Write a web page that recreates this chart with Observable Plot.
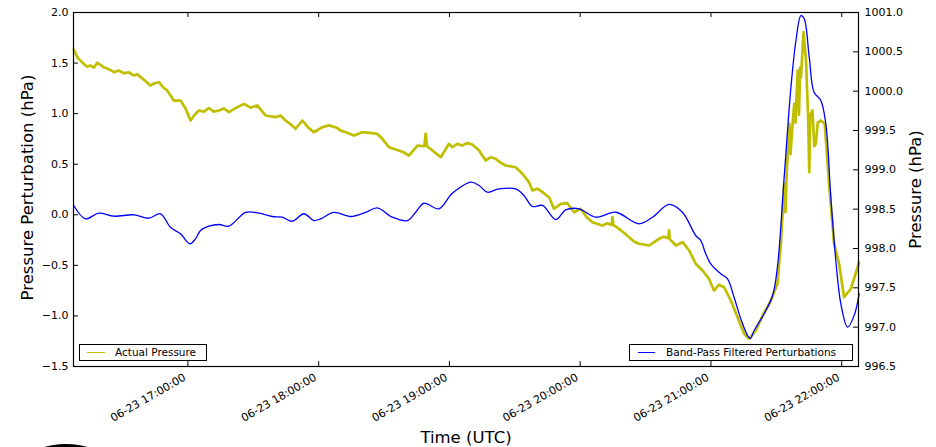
<!DOCTYPE html>
<html>
<head>
<meta charset="utf-8">
<script src="https://cdn.jsdelivr.net/npm/d3@7"></script>
<script src="https://cdn.jsdelivr.net/npm/@observablehq/plot@0.6"></script>
<style>
  html, body { margin: 0; padding: 0; background: #fff; overflow: hidden; }
  #wrap { position: relative; width: 936px; height: 447px; overflow: hidden; font-family: "DejaVu Sans", sans-serif; }
  .legend { position: absolute; background: #fff; border: 1px solid #000; box-sizing: border-box; height: 17px; font-size: 10.5px; line-height: 15px; white-space: nowrap; }
  .legend .sw { position: absolute; top: 7px; height: 0; }
  .legend .lb { position: absolute; top: 0; }
  #blob { position: absolute; left: 30px; top: 444px; width: 72px; height: 30px; border-radius: 50%; background: #000; }
</style>
</head>
<body>
<div id="wrap"></div>
<script>
// ---- data (minutes after 16:00 UTC on 06-23) ----
const filteredMinutes = [7.6,13.0,19.1,26.0,35.2,42.1,47.4,52.0,56.6,60.9,63.5,65.8,69.6,74.2,78.8,86.5,92.6,98.7,103.3,107.9,113.2,117.8,120.9,127.0,134.7,141.5,146.9,153.8,160.7,164.5,168.3,175.2,180.6,182.9,189.8,193.6,197.4,202.7,210.4,214.2,218.1,222.7,228.8,233.4,239.5,247.1,256.3,267.0,273.2,280.8,286.9,293.0,295.3,297.6,299.9,304.5,307.6,310.6,313.7,316.8,318.1,319.8,324.4,328.3,330.5,333.6,336.7,339.0,341.3,342.8,345.1,347.3,350.4,352.7,355.0,357.3,359.6,362.7,365.7,368.0];
const filteredValues = [0.092,-0.040,0.016,-0.014,0.000,-0.034,0.010,-0.123,-0.188,-0.287,-0.238,-0.155,-0.113,-0.096,-0.113,0.025,0.016,-0.017,-0.024,-0.064,0.010,-0.057,-0.040,0.023,-0.017,0.023,0.069,-0.024,-0.057,0.025,0.114,0.059,0.198,0.240,0.322,0.289,0.223,0.256,0.256,0.191,0.082,0.092,-0.047,0.049,0.059,-0.024,0.025,-0.089,-0.024,0.102,0.025,-0.205,-0.254,-0.386,-0.485,-0.584,-0.633,-0.815,-1.029,-1.194,-1.223,-1.144,-0.979,-0.798,-0.518,0.372,1.261,1.723,1.970,1.938,1.558,1.212,1.130,0.900,0.174,-0.452,-0.880,-1.111,-0.996,-0.781];

const actualMinutes = [7.6,9.5,12.2,13.8,15.3,16.9,18.4,20.0,21.4,23.7,26.0,28.3,30.6,32.9,35.2,36.8,38.3,40.5,42.8,44.7,46.7,48.6,50.5,53.5,56.6,58.9,61.2,63.1,65.0,67.3,69.6,71.9,74.2,76.5,78.8,82.2,85.7,88.7,91.8,95.6,100.2,102.5,104.8,107.1,109.4,112.5,115.1,117.8,121.7,124.7,127.8,130.1,132.4,136.2,140.0,143.4,146.9,149.2,152.2,156.8,159.1,161.4,165.3,168.5,169.1,169.7,172.2,176.0,179.8,181.3,183.6,185.9,188.2,190.5,193.6,196.6,198.9,201.2,203.5,205.8,210.4,213.5,216.5,218.1,220.4,222.7,225.7,228.0,231.1,234.1,237.2,240.2,242.9,245.6,250.2,252.5,254.4,254.8,255.2,257.8,260.1,262.4,264.7,267.0,271.6,273.9,276.2,278.4,280.5,280.8,281.1,283.9,287.0,290.0,293.0,296.1,299.1,301.4,303.7,306.0,309.1,312.2,315.2,317.5,320.6,323.7,327.5,330.5,332.1,333.6,334.2,334.8,336.0,336.5,337.1,338.2,338.8,339.8,340.4,340.9,341.3,342.5,343.6,344.6,345.1,345.6,346.6,347.4,348.1,349.0,350.4,352.2,354.2,356.5,358.8,361.1,364.2,367.3,367.9];
const actualPressure = [1000.530,1000.420,1000.348,1000.310,1000.326,1000.300,1000.361,1000.330,1000.305,1000.280,1000.241,1000.262,1000.228,1000.240,1000.199,1000.215,1000.178,1000.130,1000.072,1000.100,1000.114,1000.050,1000.008,999.881,999.881,999.780,999.627,999.700,999.754,999.740,999.783,999.740,999.754,999.780,999.733,999.790,999.839,999.790,999.818,999.691,999.669,999.690,999.627,999.580,999.522,999.627,999.540,999.478,999.542,999.565,999.542,999.500,999.478,999.436,999.478,999.470,999.458,999.395,999.288,999.246,999.220,999.182,999.309,999.300,999.460,999.300,999.246,999.161,999.331,999.288,999.330,999.309,999.340,999.322,999.246,999.119,999.160,999.140,999.090,999.055,999.033,998.950,998.843,998.737,998.760,998.716,998.652,998.505,998.568,998.576,998.461,998.505,998.400,998.334,998.292,998.320,998.300,998.400,998.300,998.250,998.200,998.144,998.090,998.060,998.038,998.080,998.123,998.150,998.130,998.230,998.120,998.038,998.080,997.975,997.806,997.720,997.615,997.466,997.540,997.508,997.339,997.127,996.916,996.852,996.958,997.148,997.339,997.551,998.060,998.822,998.460,999.000,999.585,999.200,999.450,999.839,999.600,1000.263,999.700,1000.300,1000.178,1000.750,1000.390,999.669,998.970,999.700,999.754,999.300,999.331,999.600,999.627,999.585,998.822,998.060,997.805,997.381,997.488,997.762,997.822];

const leftTicks = [-1.5,-1.0,-0.5,0.0,0.5,1.0,1.5,2.0];
const rightTicks = [996.5,997.0,997.5,998.0,998.5,999.0,999.5,1000.0,1000.5,1001.0];
const hourTicks = [17,18,19,20,21,22];
const domainMinutes = [7.5, 367.7];

// ---- helpers ----
const base = Date.UTC(2015, 5, 23, 16, 0, 0);
const toDate = m => new Date(base + m * 60000);
const toLeft = p => -1.5 + (p - 996.5) * 3.5 / 4.5; // right-axis hPa -> left-axis units
const fmtLeft = d => (d < 0 ? "\u2212" : "") + Math.abs(d).toFixed(1);
const fmtTime = d3.utcFormat("%m-%d %H:%M:%S");

const filtered = filteredMinutes.map((m, i) => ({t: toDate(m), v: filteredValues[i]}));
const actual = actualMinutes.map((m, i) => ({t: toDate(m), v: toLeft(actualPressure[i])}));
const xTicks = hourTicks.map(h => new Date(Date.UTC(2015, 5, 23, h, 0, 0)));

const W = 936, H = 447, mL = 73, mR = 78, mT = 12, mB = 81;
const pw = W - mL - mR, ph = H - mT - mB;

const chart = Plot.plot({
  width: W, height: H,
  marginLeft: mL, marginRight: mR, marginTop: mT, marginBottom: mB,
  style: {fontFamily: "DejaVu Sans, sans-serif", fontSize: "11px", background: "white", color: "black", overflow: "visible"},
  x: {type: "utc", domain: domainMinutes.map(toDate), axis: null},
  y: {domain: [-1.5, 2.0], axis: null},
  marks: [
    Plot.line(actual, {x: "t", y: "v", stroke: "#bfbf00", strokeWidth: 2.7, strokeLinejoin: "round"}),
    Plot.line(filtered, {x: "t", y: "v", stroke: "#0000ff", strokeWidth: 1.3, curve: "catmull-rom"}),
    Plot.frame({stroke: "black", strokeWidth: 1.2}),
    // inward ticks
    Plot.tickY(leftTicks, {y: d => d, stroke: "black", insetRight: pw - 5}),
    Plot.tickY(rightTicks, {y: d => toLeft(d), stroke: "black", insetLeft: pw - 5}),
    Plot.tickX(xTicks, {x: d => d, stroke: "black", insetTop: ph - 5}),
    Plot.tickX(xTicks, {x: d => d, stroke: "black", insetBottom: ph - 5}),
    // tick labels
    Plot.axisY({anchor: "left", ticks: leftTicks, tickSize: 0, tickPadding: 5, tickFormat: fmtLeft, label: null, fontSize: 11}),
    Plot.axisY({anchor: "right", ticks: rightTicks.map(toLeft), tickSize: 0, tickPadding: 6,
      tickFormat: d => (996.5 + (d + 1.5) * 4.5 / 3.5).toFixed(1), label: null, fontSize: 11}),
    Plot.text(xTicks, {x: d => d, text: d => fmtTime(d), frameAnchor: "bottom", rotate: -30,
      textAnchor: "end", lineAnchor: "middle", dx: -3, dy: 10, fontSize: 11, fill: "black"}),
    // axis titles
    Plot.text(["Pressure Perturbation (hPa)"], {text: d => d, frameAnchor: "left", textAnchor: "middle", lineAnchor: "middle", rotate: -90, dx: -46, dy: -2, fontSize: 16.5, fill: "black"}),
    Plot.text(["Pressure (hPa)"], {text: d => d, frameAnchor: "right", textAnchor: "middle", lineAnchor: "middle", rotate: -90, dx: 57, fontSize: 16.5, fill: "black"}),
    Plot.text(["Time (UTC)"], {text: d => d, frameAnchor: "bottom", textAnchor: "middle", lineAnchor: "middle", dy: 71, fontSize: 16.5, fill: "black"})
  ]
});

const wrap = document.getElementById("wrap");
wrap.appendChild(chart);

function legend(left, width, color, label, swL, swW, textL) {
  const el = document.createElement("div");
  el.className = "legend";
  el.style.left = left + "px";
  el.style.top = "344px";
  el.style.width = width + "px";
  el.innerHTML = `<div class="sw" style="left:${swL}px;width:${swW}px;border-top:1.4px solid ${color}"></div><div class="lb" style="left:${textL}px">${label}</div>`;
  wrap.appendChild(el);
}
legend(79, 128, "#bfbf00", "Actual Pressure", 7, 18, 35);
legend(629, 224, "#0000ff", "Band-Pass Filtered Perturbations", 8, 17, 36);

const blob = document.createElement("div");
blob.id = "blob";
wrap.appendChild(blob);
</script>
</body>
</html>
